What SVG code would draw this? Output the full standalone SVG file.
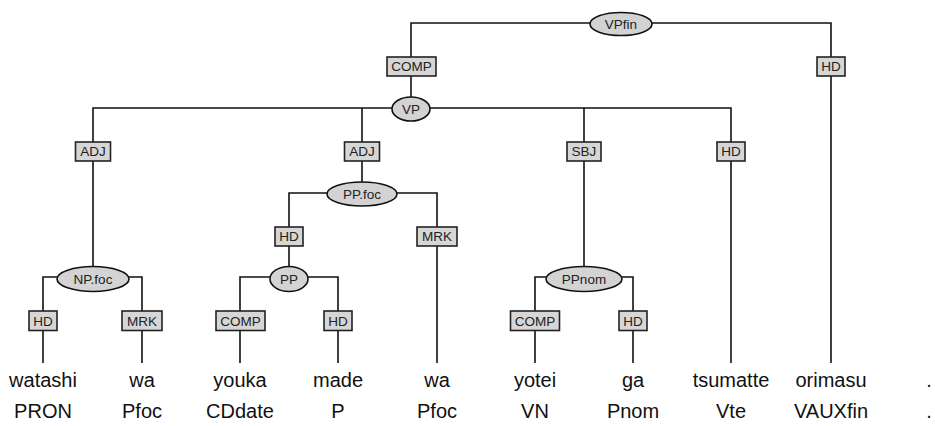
<svg xmlns="http://www.w3.org/2000/svg" width="935" height="426" viewBox="0 0 935 426">
<style>
.c{fill:none;stroke:#111;stroke-width:1.6}
.e{fill:#d3d3d3;stroke:#111;stroke-width:1.6}
.b{fill:#d6d6d6;stroke:#222;stroke-width:1.6}
.t{font-family:"Liberation Sans",Arial,sans-serif;font-size:13.5px;fill:#222;text-anchor:middle}
.w{font-family:"Liberation Sans",Arial,sans-serif;font-size:20px;fill:#111;text-anchor:middle}
</style>
<rect width="935" height="426" fill="#fff"/>
<g id="connectors">
<path class="c" d="M411,108 V23 H831 V363"/>
<path class="c" d="M93,279 V108 H731 V363"/>
<path class="c" d="M362,108 V194"/>
<path class="c" d="M584,108 V279"/>
<path class="c" d="M289,279 V193 H437 V363"/>
<path class="c" d="M43,363 V277 H142 V363"/>
<path class="c" d="M240,363 V277 H338 V363"/>
<path class="c" d="M535,363 V277 H633 V363"/>
</g>
<g id="n-VPfin"><ellipse class="e" cx="621" cy="24" rx="31" ry="11.5"/><text class="t" x="621" y="28.5">VPfin</text></g>
<g id="e-COMP1"><rect class="b" x="387" y="57" width="49" height="19"/><text class="t" x="411.5" y="71">COMP</text></g>
<g id="e-HD1"><rect class="b" x="817" y="57" width="28" height="19"/><text class="t" x="831" y="71">HD</text></g>
<g id="n-VP"><ellipse class="e" cx="411" cy="109" rx="19" ry="12"/><text class="t" x="411" y="113.5">VP</text></g>
<g id="e-ADJ1"><rect class="b" x="75.5" y="142" width="35" height="19"/><text class="t" x="93" y="156">ADJ</text></g>
<g id="e-ADJ2"><rect class="b" x="344.5" y="142" width="35" height="19"/><text class="t" x="362" y="156">ADJ</text></g>
<g id="e-SBJ"><rect class="b" x="567" y="142" width="34" height="19"/><text class="t" x="584" y="156">SBJ</text></g>
<g id="e-HD2"><rect class="b" x="717" y="142" width="28" height="19"/><text class="t" x="731" y="156">HD</text></g>
<g id="n-PPfoc"><ellipse class="e" cx="362" cy="194" rx="35" ry="12"/><text class="t" x="362" y="198.5">PP.foc</text></g>
<g id="e-HD3"><rect class="b" x="275" y="227" width="28" height="19"/><text class="t" x="289" y="241">HD</text></g>
<g id="e-MRK1"><rect class="b" x="417" y="227" width="40" height="19"/><text class="t" x="437" y="241">MRK</text></g>
<g id="n-NPfoc"><ellipse class="e" cx="93" cy="279" rx="36" ry="12.5"/><text class="t" x="93" y="283.5">NP.foc</text></g>
<g id="n-PP"><ellipse class="e" cx="289" cy="279" rx="19" ry="12.5"/><text class="t" x="289" y="283.5">PP</text></g>
<g id="n-PPnom"><ellipse class="e" cx="584" cy="279" rx="38" ry="12.5"/><text class="t" x="584" y="283.5">PPnom</text></g>
<g id="e-HD4"><rect class="b" x="29" y="311" width="28" height="19.5"/><text class="t" x="43" y="325.5">HD</text></g>
<g id="e-MRK2"><rect class="b" x="122" y="311" width="40" height="19.5"/><text class="t" x="142" y="325.5">MRK</text></g>
<g id="e-COMP2"><rect class="b" x="216" y="311" width="49" height="19.5"/><text class="t" x="240.5" y="325.5">COMP</text></g>
<g id="e-HD5"><rect class="b" x="324" y="311" width="28" height="19.5"/><text class="t" x="338" y="325.5">HD</text></g>
<g id="e-COMP3"><rect class="b" x="510.5" y="311" width="49" height="19.5"/><text class="t" x="535" y="325.5">COMP</text></g>
<g id="e-HD6"><rect class="b" x="619" y="311" width="28" height="19.5"/><text class="t" x="633" y="325.5">HD</text></g>
<g id="words">
<text class="w" x="43" y="387">watashi</text><text class="w" x="43" y="418">PRON</text>
<text class="w" x="142" y="387">wa</text><text class="w" x="142" y="418">Pfoc</text>
<text class="w" x="240" y="387">youka</text><text class="w" x="240" y="418">CDdate</text>
<text class="w" x="338" y="387">made</text><text class="w" x="338" y="418">P</text>
<text class="w" x="437" y="387">wa</text><text class="w" x="437" y="418">Pfoc</text>
<text class="w" x="535" y="387">yotei</text><text class="w" x="535" y="418">VN</text>
<text class="w" x="633" y="387">ga</text><text class="w" x="633" y="418">Pnom</text>
<text class="w" x="731" y="387">tsumatte</text><text class="w" x="731" y="418">Vte</text>
<text class="w" x="831" y="387">orimasu</text><text class="w" x="831" y="418">VAUXfin</text>
<text class="w" x="929" y="387">.</text><text class="w" x="929" y="418">.</text>
</g>
</svg>
